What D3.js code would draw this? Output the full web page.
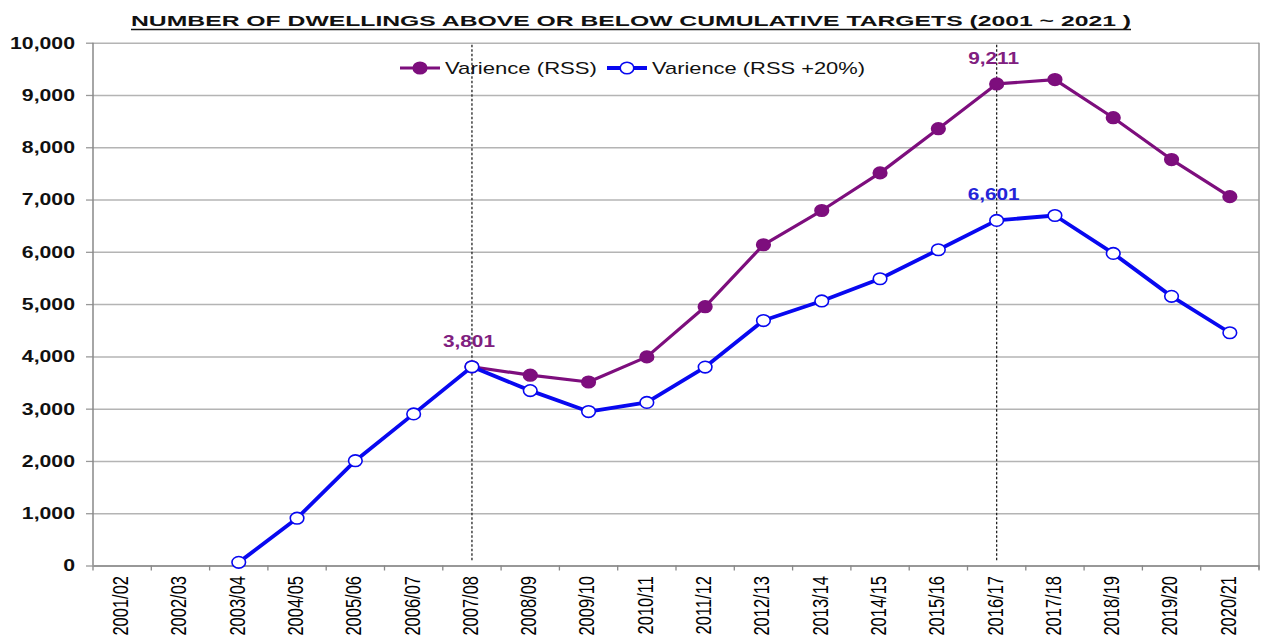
<!DOCTYPE html>
<head>
  <meta charset="utf-8">
  <script src="https://d3js.org/d3.v7.min.js"></script>
  <style>
    body { margin: 0; background: #fff; }
    svg { display: block; font-family: "Liberation Sans", Arial, sans-serif; }
  </style>
</head>
<body>
  <svg width="1264" height="638"></svg>
  <script>
    // data
    var years = ['2001/02', '2002/03', '2003/04', '2004/05', '2005/06', '2006/07', '2007/08',
      '2008/09', '2009/10', '2010/11', '2011/12', '2012/13', '2013/14', '2014/15', '2015/16',
      '2016/17', '2017/18', '2018/19', '2019/20', '2020/21'];
    var rss = [null, null, null, null, null, null, 3801, 3640, 3510, 3990, 4950, 6135, 6790,
      7510, 8355, 9211, 9295, 8565, 7765, 7055];
    var rss20 = [null, null, 60, 905, 2005, 2900, 3801, 3345, 2945, 3120, 3795, 4685, 5060,
      5485, 6040, 6601, 6695, 5970, 5148, 4452];
    var yTicks = [0, 1000, 2000, 3000, 4000, 5000, 6000, 7000, 8000, 9000, 10000];
    var markerYears = ['2007/08', '2016/17'];
    var seriesNames = ['Varience (RSS)', 'Varience (RSS +20%)'];
    var titleText = 'NUMBER OF DWELLINGS ABOVE OR BELOW CUMULATIVE TARGETS (2001 ~ 2021 )';
    var noteYears = ['2007/08', '2016/17', '2016/17'];
    var noteVals = [3801, 9211, 6601];
    var noteSeries = [0, 0, 1];

    var purple = '#7d0e7d', blue = '#0808f0';
    var stretch = 1.3;
    var margin = { top: 42.7, left: 93, right: 1259, bottom: 565.5 };

    var svg = d3.select('svg');

    var x = d3.scaleBand().domain(years).range([margin.left, margin.right]);
    var y = d3.scaleLinear().domain([0, 10000]).range([margin.bottom, margin.top]);
    var cx = function (c) { return x(c) + x.bandwidth() / 2; };

    // title
    svg.append('text')
      .attr('x', 631).attr('y', 26)
      .attr('text-anchor', 'middle')
      .attr('font-size', 15.5).attr('font-weight', 'bold')
      .attr('textLength', 1000).attr('lengthAdjust', 'spacingAndGlyphs')
      .attr('fill', '#111')
      .text(titleText);
    svg.append('line')
      .attr('x1', 131).attr('x2', 1131).attr('y1', 29.5).attr('y2', 29.5)
      .attr('stroke', '#111').attr('stroke-width', 1.4);

    // grid + y axis
    var yAxis = d3.axisLeft(y).tickValues(yTicks).tickFormat(d3.format(',')).tickSize(7);
    var gy = svg.append('g').attr('transform', 'translate(' + margin.left + ',0)').call(yAxis);
    gy.select('.domain').remove();
    gy.selectAll('.tick line').attr('stroke', '#999').attr('stroke-width', 1.3);
    gy.selectAll('.tick').append('line')
      .attr('x1', 0).attr('x2', margin.right - margin.left)
      .attr('stroke', '#b4b4b4').attr('stroke-width', 1.5);
    gy.selectAll('.tick text')
      .attr('x', 0)
      .attr('transform', 'translate(-18,0) scale(1.25,1)')
      .attr('font-size', 17).attr('font-weight', 'bold')
      .attr('font-family', '"Liberation Sans", Arial, sans-serif')
      .attr('fill', '#111');

    // frame
    svg.append('line').attr('x1', margin.left).attr('x2', margin.left)
      .attr('y1', margin.top).attr('y2', margin.bottom).attr('stroke', '#888').attr('stroke-width', 1.5);
    svg.append('line').attr('x1', margin.right).attr('x2', margin.right)
      .attr('y1', margin.top).attr('y2', margin.bottom + 4).attr('stroke', '#999').attr('stroke-width', 1.5);

    // x axis
    var xAxis = d3.axisBottom(x).tickSize(0).tickPadding(0);
    var gx = svg.append('g').attr('transform', 'translate(0,' + margin.bottom + ')').call(xAxis);
    gx.select('.domain').attr('stroke', '#888').attr('stroke-width', 1.5);
    gx.selectAll('.tick text')
      .attr('y', 0).attr('dy', '0.36em')
      .attr('text-anchor', 'end')
      .attr('transform', 'translate(-2,10.5) scale(1.32,1) rotate(-90)')
      .attr('font-size', 16.5)
      .attr('font-family', '"Liberation Sans", Arial, sans-serif')
      .attr('fill', '#000');
    gx.selectAll('.bound')
      .data(years.concat([null]))
      .enter().append('line')
      .attr('class', 'bound')
      .attr('x1', function (d) { return d ? x(d) : margin.right; })
      .attr('x2', function (d) { return d ? x(d) : margin.right; })
      .attr('y1', 0).attr('y2', 5)
      .attr('stroke', '#888').attr('stroke-width', 1.3);

    // dotted markers
    svg.selectAll('.vline')
      .data(markerYears)
      .enter().append('line')
      .attr('class', 'vline')
      .attr('x1', cx).attr('x2', cx)
      .attr('y1', margin.top + 2).attr('y2', margin.bottom - 5)
      .attr('stroke', '#222').attr('stroke-width', 1.3)
      .attr('stroke-dasharray', '2.5,2');

    // lines
    var line = d3.line()
      .defined(function (d) { return d.v != null; })
      .x(function (d) { return cx(d.c); })
      .y(function (d) { return y(d.v); });

    var series = [
      { vals: rss, color: purple, width: 3.2, fill: purple },
      { vals: rss20, color: blue, width: 3.8, fill: '#fff' }
    ];

    series.forEach(function (s) {
      var pts = years.map(function (c, i) { return { c: c, v: s.vals[i] }; });
      svg.append('path').datum(pts)
        .attr('d', line)
        .attr('fill', 'none').attr('stroke', s.color).attr('stroke-width', s.width)
        .attr('stroke-linejoin', 'round');
      svg.selectAll(null)
        .data(pts.filter(function (d) { return d.v != null; }))
        .enter().append('ellipse')
        .attr('cx', function (d) { return cx(d.c); })
        .attr('cy', function (d) { return y(d.v); })
        .attr('rx', 6.8).attr('ry', 5.8)
        .attr('fill', s.fill).attr('stroke', s.color).attr('stroke-width', 1.6);
    });

    // value notes
    noteYears.forEach(function (c, i) {
      var col = noteSeries[i] === 0 ? '#80207f' : '#2424d8';
      svg.append('text')
        .attr('transform', 'translate(' + (cx(c) - 3) + ',' + (y(noteVals[i]) - 20) + ') scale(' + stretch + ',1)')
        .attr('text-anchor', 'middle')
        .attr('font-size', 16).attr('font-weight', 'bold')
        .attr('fill', col)
        .text(d3.format(',')(noteVals[i]));
    });

    // legend
    var legX = [400, 607], legTextX = [445, 652], legLen = [152, 213];
    series.forEach(function (s, i) {
      var g = svg.append('g').attr('transform', 'translate(' + legX[i] + ',68)');
      g.append('line').attr('x1', 0).attr('x2', 40)
        .attr('stroke', s.color).attr('stroke-width', s.width);
      g.append('ellipse').attr('cx', 20).attr('cy', 0).attr('rx', 6.8).attr('ry', 5.8)
        .attr('fill', s.fill).attr('stroke', s.color).attr('stroke-width', 1.6);
      svg.append('text')
        .attr('x', legTextX[i]).attr('y', 74)
        .attr('font-size', 17)
        .attr('textLength', legLen[i]).attr('lengthAdjust', 'spacingAndGlyphs')
        .attr('fill', '#111')
        .text(seriesNames[i]);
    });
  </script>
</body>
